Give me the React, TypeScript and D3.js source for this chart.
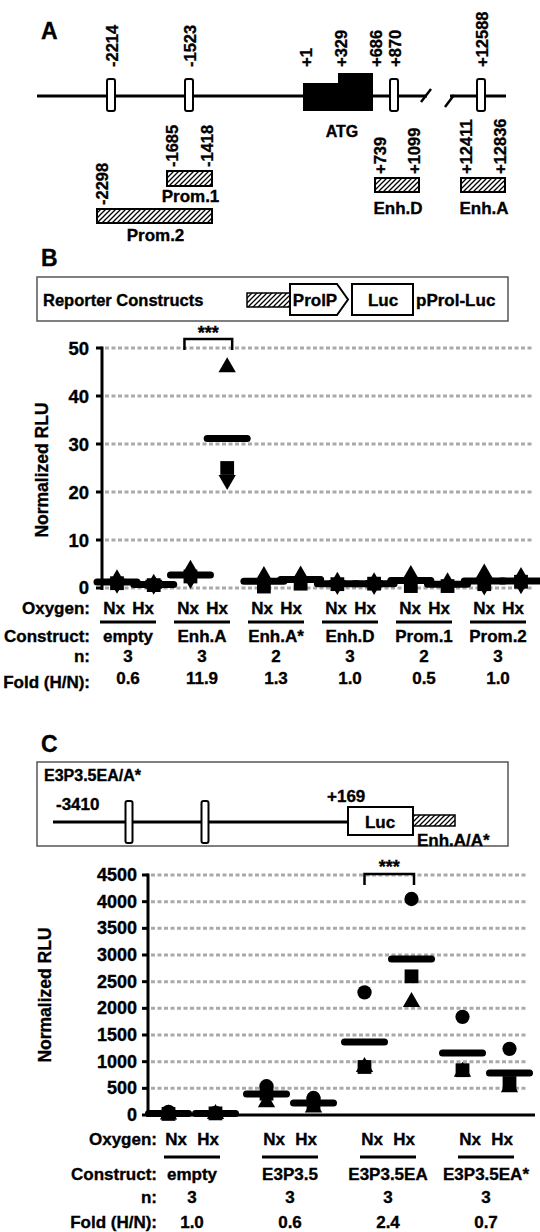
import { useEffect, useRef } from 'react';
import * as d3 from 'd3';

const FONT = '"Liberation Sans", Arial, Helvetica, sans-serif';

// Panel A - gene map, positions in bp
const exonSites = [-2214, -1523, 870, 12588];
const siteLabelPos = [-2214, -1523, 1, 329, 686, 870, 12588];
const siteLabels = ['-2214', '-1523', '+1', '+329', '+686', '+870', '+12588'];
const exon1Starts = [1, 329];
const exon1Ends = [329, 686];
const fragNames = ['Prom.1', 'Prom.2', 'Enh.D', 'Enh.A'];
const fragStarts = [-1685, -2298, 739, 12411];
const fragEnds = [-1418, -1418, 1099, 12836];
const fragStartLabels = ['-1685', '-2298', '+739', '+12411'];
const fragEndLabels = ['-1418', '', '+1099', '+12836'];

// Panel B
const oxygen = ['Nx', 'Hx'];
const bConstructs = ['empty', 'Enh.A', 'Enh.A*', 'Enh.D', 'Prom.1', 'Prom.2'];
const bN = ['3', '3', '2', '3', '2', '3'];
const bFold = ['0.6', '11.9', '1.3', '1.0', '0.5', '1.0'];
const bNx = [[1.8, 1.0, 0.9], [3.8, 2.4, 1.9], [2.5, 0.3], [1.3, 0.8, 0.6], [2.7, 0.4], [3.0, 0.8, 0.5]];
const bHx = [[0.9, 0.6, 0.7], [46, 25, 22.5], [2.6, 0.9], [1.2, 0.9, 0.6], [1.2, 0.4], [2.3, 1.3, 0.8]];
const bTicks = [0, 10, 20, 30, 40, 50];
const bShapes = ['triangleUp', 'square', 'triangleDown'];

// Panel C
const cSites = [-2214, -1523];
const cConstructs = ['empty', 'E3P3.5', 'E3P3.5EA', 'E3P3.5EA*'];
const cN = ['3', '3', '3', '3'];
const cFold = ['1.0', '0.6', '2.4', '0.7'];
const cNx = [[60, 20, 10], [540, 400, 240], [2300, 900, 900], [1840, 840, 810]];
const cHx = [[40, 30, 20], [320, 220, 140], [4050, 2600, 2120], [1240, 600, 520]];
const cTicks = [0, 500, 1000, 1500, 2000, 2500, 3000, 3500, 4000, 4500];
const cShapes = ['circle', 'square', 'triangleUp'];

export default function App() {
  const svgRef = useRef<SVGSVGElement | null>(null);

  useEffect(() => {
    if (!svgRef.current) return;
    const svg = d3.select(svgRef.current);
    svg.selectAll('*').remove();

    svg.append('defs').append('pattern')
      .attr('id', 'hatch')
      .attr('patternUnits', 'userSpaceOnUse')
      .attr('width', 5).attr('height', 5)
      .append('path')
      .attr('d', 'M-1,1 l2,-2 M0,5 l5,-5 M4,6 l2,-2')
      .attr('stroke', '#000').attr('stroke-width', 1.3);

    const text = (x: number, y: number, s: string, size = 17, anchor = 'middle') =>
      svg.append('text')
        .attr('x', x).attr('y', y)
        .attr('font-family', FONT).attr('font-weight', 'bold')
        .attr('font-size', size).attr('text-anchor', anchor)
        .attr('dominant-baseline', 'central')
        .attr('stroke', '#000').attr('stroke-width', 0.35)
        .text(s);

    const vtext = (x: number, y: number, s: string, size = 17, anchor = 'start') =>
      svg.append('text')
        .attr('transform', `translate(${x},${y}) rotate(-90)`)
        .attr('font-family', FONT).attr('font-weight', 'bold')
        .attr('font-size', size).attr('text-anchor', anchor)
        .attr('dominant-baseline', 'central')
        .attr('stroke', '#000').attr('stroke-width', 0.35)
        .text(s);

    const line = (x1: number, y1: number, x2: number, y2: number, w = 3, color = '#000') =>
      svg.append('line')
        .attr('x1', x1).attr('y1', y1).attr('x2', x2).attr('y2', y2)
        .attr('stroke', color).attr('stroke-width', w);

    const marker = (shape: string, x: number, y: number) => {
      const type = shape === 'circle' ? d3.symbolCircle : shape === 'square' ? d3.symbolSquare : d3.symbolTriangle;
      const size = shape === 'circle' ? 160 : shape === 'square' ? 190 : 130;
      svg.append('path')
        .attr('d', d3.symbol().type(type).size(size)() as string)
        .attr('transform', `translate(${x},${y})${shape === 'triangleDown' ? ' rotate(180)' : ''}`)
        .attr('fill', '#000');
    };

    // ---------- Panel A ----------
    text(41, 31, 'A', 23, 'start');
    const bp = d3.scaleLinear()
      .domain([-2298, -2214, -1685, -1523, -1418, 1, 329, 686, 739, 870, 1099, 12411, 12588, 12836])
      .range([97, 111, 167, 189, 212, 303, 338, 373, 375, 394, 419, 461, 481, 505]);
    const geneY = 96;

    line(37, geneY, 427, geneY);
    line(450, geneY, 506, geneY);
    line(421, 102, 431, 89, 2.5);
    line(445, 107, 454, 95, 2.5);

    exon1Starts.forEach((s, i) => {
      const tall = i === 1;
      svg.append('rect')
        .attr('x', bp(s)).attr('y', tall ? 73 : 83)
        .attr('width', bp(exon1Ends[i]) - bp(s)).attr('height', tall ? 38 : 28)
        .attr('fill', '#000');
    });
    exonSites.forEach(s => {
      svg.append('rect')
        .attr('x', bp(s) - 4).attr('y', 79).attr('width', 8).attr('height', 32)
        .attr('rx', 2).attr('fill', '#fff').attr('stroke', '#000').attr('stroke-width', 2);
    });
    siteLabelPos.forEach((s, i) => vtext(bp(s) + (i >= 2 && i <= 4 ? 3 : 1), 67, siteLabels[i], 16.5));
    text(342, 131, 'ATG', 16);

    const fragTop = [171, 209, 178, 178];
    const fragH = [15, 14, 14, 14];
    const fragNameY = [196, 235, 208, 208];
    fragNames.forEach((name, i) => {
      const x0 = bp(fragStarts[i]);
      const x1 = bp(fragEnds[i]);
      svg.append('rect')
        .attr('x', x0).attr('y', fragTop[i]).attr('width', x1 - x0).attr('height', fragH[i])
        .attr('fill', 'url(#hatch)').attr('stroke', '#000').attr('stroke-width', 2);
      vtext(x0 + 5, fragTop[i] - 4, fragStartLabels[i], 16.5);
      if (fragEndLabels[i]) vtext(x1 - 5, fragTop[i] - 4, fragEndLabels[i], 16.5);
      text((x0 + x1) / 2 + 1, fragNameY[i], name, 17);
    });

    // ---------- Panel B ----------
    text(41, 258, 'B', 23, 'start');
    svg.append('rect')
      .attr('x', 37).attr('y', 277).attr('width', 471).attr('height', 44)
      .attr('fill', 'none').attr('stroke', '#555').attr('stroke-width', 1.5);
    text(43, 300, 'Reporter Constructs', 16.5, 'start');
    svg.append('rect')
      .attr('x', 247).attr('y', 293).attr('width', 43).attr('height', 14)
      .attr('fill', 'url(#hatch)').attr('stroke', '#000').attr('stroke-width', 1.5);
    svg.append('path')
      .attr('d', 'M290,284 L337,284 L348,299.5 L337,315 L290,315 Z')
      .attr('fill', '#fff').attr('stroke', '#000').attr('stroke-width', 2);
    text(315, 300, 'ProlP', 17);
    svg.append('rect')
      .attr('x', 352).attr('y', 284).attr('width', 61).attr('height', 31)
      .attr('fill', '#fff').attr('stroke', '#000').attr('stroke-width', 2);
    text(383, 300, 'Luc', 17);
    text(416, 300, 'pProl-Luc', 17, 'start');

    const yB = d3.scaleLinear().domain([0, 50]).range([588, 348]);
    const colB = d3.scalePoint<string>()
      .domain(bConstructs.flatMap(c => oxygen.map(o => `${c}|${o}`)))
      .range([117, 521]);
    const grpB = d3.scaleBand<string>().domain(bConstructs).range([91, 535]);

    bTicks.forEach(t => {
      line(105, yB(t), 532, yB(t), 3, '#aaa').attr('stroke-dasharray', '4,2.5');
      line(96, yB(t), 102, yB(t), 3);
      text(89, yB(t) - (t === 0 ? 1 : 0), String(t), 18.5, 'end');
    });
    line(102, yB(50) - 1.5, 102, yB(0) + 2, 3);
    vtext(42, 470, 'Normalized RLU', 17.5, 'middle');

    bConstructs.forEach((c, i) => {
      oxygen.forEach((o, j) => {
        const vals = j === 0 ? bNx[i] : bHx[i];
        const x = colB(`${c}|${o}`) as number;
        const m = d3.mean(vals) as number;
        line(x - 20, yB(m), x + 20, yB(m), 7).attr('stroke-linecap', 'round');
        vals.forEach((v, k) => marker(bShapes[k], x, yB(v)));
      });
    });

    // significance bracket
    const bx0 = (colB('Enh.A|Nx') as number) - 6;
    const bx1 = (colB('Enh.A|Hx') as number) + 5;
    svg.append('path')
      .attr('d', `M${bx0},${yB(50) + 2} V${yB(50) - 9} H${bx1} V${yB(50) + 2}`)
      .attr('fill', 'none').attr('stroke', '#000').attr('stroke-width', 2.5);
    text((bx0 + bx1) / 2, yB(50) - 15, '***', 18);

    const bRows = { oxy: 608, under: 622, con: 636, n: 656, fold: 678 };
    text(90, bRows.oxy, 'Oxygen:', 17, 'end');
    text(90, bRows.con, 'Construct:', 17, 'end');
    text(90, bRows.n, 'n:', 17, 'end');
    text(90, bRows.fold + 4, 'Fold (H/N):', 17, 'end');
    bConstructs.forEach((c, i) => {
      const cx = (grpB(c) as number) + grpB.bandwidth() / 2;
      text(cx - 14, bRows.oxy, oxygen[0], 17);
      text(cx + 15, bRows.oxy, oxygen[1], 17);
      line(cx - 28, bRows.under, cx + 28, bRows.under, 3);
      text(cx, bRows.con, c, 17);
      text(cx, bRows.n, bN[i], 17);
      text(cx, bRows.fold, bFold[i], 17);
    });

    // ---------- Panel C ----------
    text(41, 744, 'C', 23, 'start');
    svg.append('rect')
      .attr('x', 37).attr('y', 762).attr('width', 471).attr('height', 84)
      .attr('fill', 'none').attr('stroke', '#555').attr('stroke-width', 1.5);
    text(44, 775, 'E3P3.5EA/A*', 16, 'start');
    const bpC = d3.scaleLinear().domain([-3410, -2214, -1523, 169]).range([53, 129, 205, 348]);
    line(bpC(-3410), 822, bpC(169), 822, 3);
    text(56, 804, '-3410', 17, 'start');
    text(327, 796, '+169', 17, 'start');
    cSites.forEach(s => {
      svg.append('rect')
        .attr('x', bpC(s) - 3.5).attr('y', 801).attr('width', 7).attr('height', 42)
        .attr('rx', 2).attr('fill', '#fff').attr('stroke', '#000').attr('stroke-width', 2);
    });
    svg.append('rect')
      .attr('x', 348).attr('y', 807).attr('width', 65).attr('height', 28)
      .attr('fill', '#fff').attr('stroke', '#000').attr('stroke-width', 2);
    text(380, 822, 'Luc', 17);
    svg.append('rect')
      .attr('x', 413).attr('y', 815).attr('width', 42).attr('height', 11)
      .attr('fill', 'url(#hatch)').attr('stroke', '#000').attr('stroke-width', 1.5);
    text(417, 840, 'Enh.A/A*', 17, 'start');

    const yC = d3.scaleLinear().domain([0, 4500]).range([1115, 875]);
    const grpC = d3.scaleBand<string>().domain(cConstructs).range([143, 535]);

    cTicks.forEach(t => {
      if (t > 0) line(151, yC(t), 528, yC(t), 3, '#aaa').attr('stroke-dasharray', '4,2.5');
      line(142, yC(t), 148, yC(t), 3);
      text(137, yC(t), String(t), 18, 'end');
    });
    line(148, yC(4500) - 1.5, 148, yC(0) + 1.5, 3);
    line(146, yC(0), 535, yC(0), 3);
    vtext(45, 995, 'Normalized RLU', 17.5, 'middle');

    cConstructs.forEach((c, i) => {
      const cx = (grpC(c) as number) + grpC.bandwidth() / 2;
      oxygen.forEach((o, j) => {
        const vals = j === 0 ? cNx[i] : cHx[i];
        const x = cx + (j === 0 ? -23.5 : 23.5);
        const m = d3.mean(vals) as number;
        line(x - 20, yC(m), x + 20, yC(m), 7).attr('stroke-linecap', 'round');
        vals.forEach((v, k) => marker(cShapes[k], x, yC(v)));
      });
    });

    const ea = (grpC('E3P3.5EA') as number) + grpC.bandwidth() / 2;
    const cx0 = ea - 23.5;
    const cx1 = ea + 26;
    svg.append('path')
      .attr('d', `M${cx0},${yC(4500) + 10} V${yC(4500) - 1} H${cx1} V${yC(4500) + 10}`)
      .attr('fill', 'none').attr('stroke', '#000').attr('stroke-width', 2.5);
    text((cx0 + cx1) / 2, yC(4500) - 8, '***', 18);

    const cRows = { oxy: 1139, under: 1157, con: 1174, n: 1197, fold: 1222 };
    text(157, cRows.oxy, 'Oxygen:', 17, 'end');
    text(157, cRows.con, 'Construct:', 17, 'end');
    text(157, cRows.n, 'n:', 17, 'end');
    text(157, cRows.fold, 'Fold (H/N):', 17, 'end');
    cConstructs.forEach((c, i) => {
      const cx = (grpC(c) as number) + grpC.bandwidth() / 2;
      text(cx - 16, cRows.oxy, oxygen[0], 17);
      text(cx + 16, cRows.oxy, oxygen[1], 17);
      line(cx - 28, cRows.under, cx + 28, cRows.under, 3);
      text(cx, cRows.con, c, 17);
      text(cx, cRows.n, cN[i], 17);
      text(cx, cRows.fold, cFold[i], 17);
    });
  }, []);

  return (
    <svg
      ref={svgRef}
      width={540}
      height={1232}
      style={{ position: 'absolute', left: 0, top: 0, background: '#fff' }}
    />
  );
}
